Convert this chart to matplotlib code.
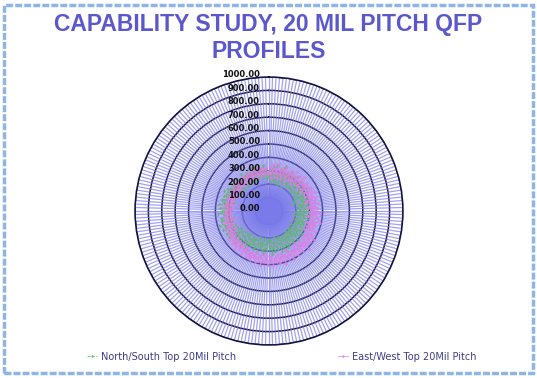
import numpy as np
import matplotlib
matplotlib.use("Agg")
import matplotlib.pyplot as plt
from matplotlib.patches import Rectangle

# ── Datos ─────────────────────────────────────────────────────────────────────

titulo = "CAPABILITY STUDY, 20 MIL PITCH QFP\nPROFILES"
serie_ns = "North/South Top 20Mil Pitch"
serie_ew = "East/West Top 20Mil Pitch"

escala = [0, 100, 200, 300, 400, 500, 600, 700, 800, 900, 1000]

valores_ns = [
    260, 310, 215, 280, 335, 230, 270, 350, 220, 295, 250, 320, 205, 285, 360, 240, 275, 310, 200, 285,
    340, 245, 295, 220, 315, 270, 235, 330, 285, 225, 305, 255, 320, 215, 275, 310, 230, 290, 250, 330,
    215, 285, 315, 235, 270, 200, 300, 250, 290, 190, 260, 310, 225, 285, 240, 300, 210, 270, 315, 230,
    275, 195, 300, 250, 220, 285, 190, 260, 305, 215, 250, 295, 205, 270, 235, 310, 210, 255, 285, 220,
    185, 270, 235, 300, 205, 250, 285, 190, 265, 220, 305, 210, 245, 280, 195, 295, 230, 265, 205, 285,
    245, 305, 210, 280, 325, 230, 285, 205, 310, 250, 220, 295, 265, 195, 300, 235, 275, 320, 215, 285,
    260, 215, 300, 235, 280, 320, 210, 295, 245, 275, 220, 310, 260, 205, 290, 305, 230, 275, 245, 300,
    225, 285, 325, 250, 300, 215, 340, 280, 235, 310, 265, 350, 230, 295, 325, 250, 305, 275, 355, 245,
    310, 360, 265, 330, 290, 375, 270, 345, 305, 385, 285, 325, 355, 275, 365, 310, 340, 290, 380, 315,
    350, 285, 365, 325, 295, 375, 315, 345, 270, 360, 330, 300, 355, 275, 340, 310, 365, 290, 325, 350,
    285, 330, 255, 310, 350, 250, 300, 325, 240, 295, 340, 265, 310, 245, 305, 345, 270, 320, 250, 300,
    330, 255, 305, 355, 270, 315, 245, 340, 290, 265, 350, 285, 320, 250, 300, 345, 270, 315, 245, 295,
]

valores_ew = [
    285, 330, 245, 305, 350, 265, 315, 285, 360, 250, 320, 290, 340, 255, 300, 355, 275, 325, 250, 305,
    345, 270, 320, 290, 365, 260, 325, 300, 350, 275, 315, 370, 285, 335, 265, 320, 355, 290, 340, 270,
    325, 360, 290, 345, 310, 375, 285, 340, 315, 365, 295, 350, 275, 330, 370, 305, 345, 290, 360, 315,
    355, 300, 380, 325, 350, 290, 370, 330, 310, 390, 340, 295, 365, 320, 350, 300, 380, 330, 290, 360,
    370, 330, 400, 315, 360, 385, 325, 370, 345, 410, 320, 365, 340, 390, 305, 375, 350, 325, 395, 345,
    380, 340, 405, 355, 320, 390, 370, 345, 415, 325, 375, 355, 400, 330, 385, 350, 370, 410, 335, 380,
    365, 400, 340, 385, 325, 375, 405, 335, 380, 355, 395, 320, 370, 345, 390, 330, 375, 350, 385, 335,
    355, 320, 380, 340, 305, 370, 345, 325, 385, 310, 355, 330, 370, 300, 350, 325, 365, 305, 345, 320,
    300, 340, 280, 320, 355, 295, 330, 275, 325, 305, 345, 290, 320, 270, 315, 340, 285, 325, 295, 330,
    290, 320, 270, 305, 340, 280, 315, 265, 325, 295, 275, 330, 300, 280, 320, 265, 305, 290, 325, 275,
    305, 270, 325, 290, 260, 315, 295, 275, 340, 285, 305, 265, 320, 295, 270, 325, 290, 305, 265, 315,
    295, 330, 275, 315, 290, 345, 265, 320, 300, 280, 340, 270, 305, 325, 280, 315, 270, 325, 295, 290,
]

n_cat = len(valores_ns)

# ── Figura ────────────────────────────────────────────────────────────────────

fig = plt.figure(figsize=(5.37, 3.78), dpi=100)
fig.patch.set_facecolor("white")

# marco azul claro alrededor de la lámina
fig.patches.append(Rectangle((0.008, 0.013), 0.984, 0.975, transform=fig.transFigure,
                             fill=False, edgecolor="#8DB5E8", linewidth=2.5, linestyle=(0, (2, 0.6))))

fig.text(0.5, 0.965, titulo, ha="center", va="top", fontsize=16.5, fontweight="bold",
         color="#5B57CC", family="Liberation Sans", linespacing=1.22)

ax = fig.add_axes([0.2514, 0.0873, 0.499, 0.709], projection="polar")
ax.set_theta_zero_location("N")
ax.set_theta_direction(-1)

angulos = np.linspace(0, 2 * np.pi, n_cat, endpoint=False)
cerrar = lambda v: list(v) + [v[0]]
ang_c = np.append(angulos, angulos[0])

ax.plot(ang_c, cerrar(valores_ns), color="#5FB86A", lw=0.6, ls="--", marker="+",
        markersize=2, label=serie_ns, zorder=3, alpha=0.85)
ax.plot(ang_c, cerrar(valores_ew), color="#E47AE4", lw=0.6, ls="-", marker="+",
        markersize=2, label=serie_ew, zorder=3, alpha=0.85)

ax.set_ylim(0, 1000)
ax.set_yticks(escala)
ax.set_yticklabels([])
ax.set_xticks(angulos)
ax.set_xticklabels([])
ax.tick_params(length=0)
ax.set_axisbelow(True)
# rayos (categorías) por encima de los círculos, para que el centro quede macizo
ax.yaxis.grid(True, color="#12123F", linewidth=1.1)
ax.xaxis.grid(True, color="#7A7AEA", linewidth=0.9, alpha=0.7)
ax.yaxis.set_zorder(0.4)
ax.xaxis.set_zorder(0.6)
ax.spines["polar"].set_color("#12123F")
ax.spines["polar"].set_linewidth(1.1)
ax.set_facecolor("white")

for v in escala:
    ax.text(0.5 - 9 / 268, 0.5 + 0.5 * v / 1000 + 0.008, f"{v:.2f}", transform=ax.transAxes,
            ha="right", va="center", fontsize=6, fontweight="bold", color="#111111", zorder=5)

leg = fig.legend(loc="lower center", bbox_to_anchor=(0.525, 0.02), ncol=2, frameon=False,
                 fontsize=7, labelcolor="#3C3C8E", columnspacing=10.5, handlelength=1.0,
                 handletextpad=0.4)

plt.savefig("out.png", dpi=100)
